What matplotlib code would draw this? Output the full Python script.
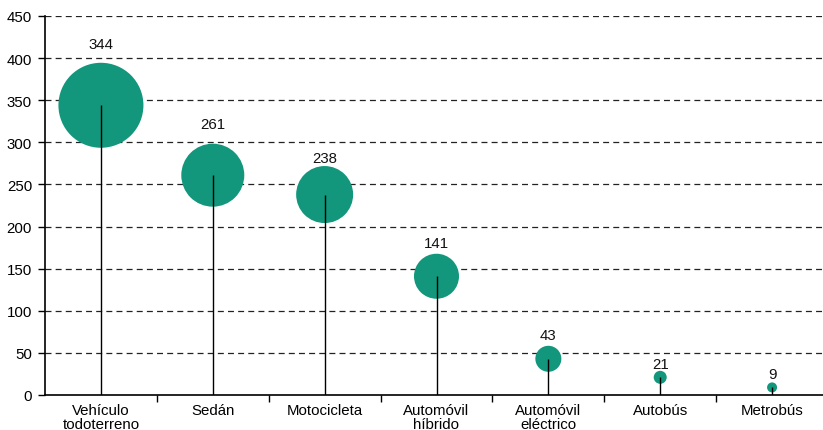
import matplotlib
matplotlib.use('Agg')
import matplotlib.pyplot as plt

# data
categories = ['Vehículo\ntodoterreno', 'Sedán', 'Motocicleta',
              'Automóvil\nhíbrido', 'Automóvil\neléctrico', 'Autobús',
              'Metrobús']
values = [344, 261, 238, 141, 43, 21, 9]
y_ticks = list(range(0, 451, 50))

# bubble diameters and label lifts in pixels (style only)
bubble_px = [85, 63, 57, 45, 26, 13, 10]
label_lift_px = [57, 47, 33, 29, 20, 9, 9]

COLOR = '#12967C'
FS = 10.8
plt.rcParams['font.family'] = ['Liberation Sans', 'DejaVu Sans']
plt.rcParams['font.size'] = FS
plt.rcParams['lines.scale_dashes'] = False

DPI = 100
fig = plt.figure(figsize=(8.23, 4.31), dpi=DPI)
ax = fig.add_axes([45 / 823, 35 / 431, 783 / 823, 379 / 431])

x = list(range(len(values)))
px2pt = 72 / DPI

# dashed grid
for t in y_ticks[1:]:
    ax.axhline(t, color='#222222', lw=0.9, ls=(0, (4.3, 3.0)), zorder=1)

sizes = [(d * px2pt) ** 2 for d in bubble_px]
ax.scatter(x, values, s=sizes, color=COLOR, edgecolors='none', zorder=2)
ax.vlines(x, 0, values, color='black', lw=1.0, zorder=3)

for xi, v, lift in zip(x, values, label_lift_px):
    ax.annotate(str(v), (xi, v), xytext=(0, lift),
                textcoords='offset pixels', ha='center', va='baseline',
                fontsize=FS, color='#111111')

ax.set_xlim(-0.5, len(values) - 0.5)
ax.set_ylim(0, 450)
ax.set_yticks(y_ticks)

ax.set_xticks(x)
ax.set_xticklabels(categories, linespacing=0.95)
ax.set_xticks([i + 0.5 for i in x], minor=True)
ax.tick_params(axis='x', which='major', length=0, pad=6)
ax.tick_params(axis='x', which='minor', length=5, width=1.0, direction='out')
ax.tick_params(axis='y', length=5, width=1.0, direction='out', pad=4.3)

for side in ['top', 'right']:
    ax.spines[side].set_visible(False)
for side in ['left', 'bottom']:
    ax.spines[side].set_linewidth(1.2)
    ax.spines[side].set_zorder(4)

fig.savefig('out.png', dpi=DPI)
